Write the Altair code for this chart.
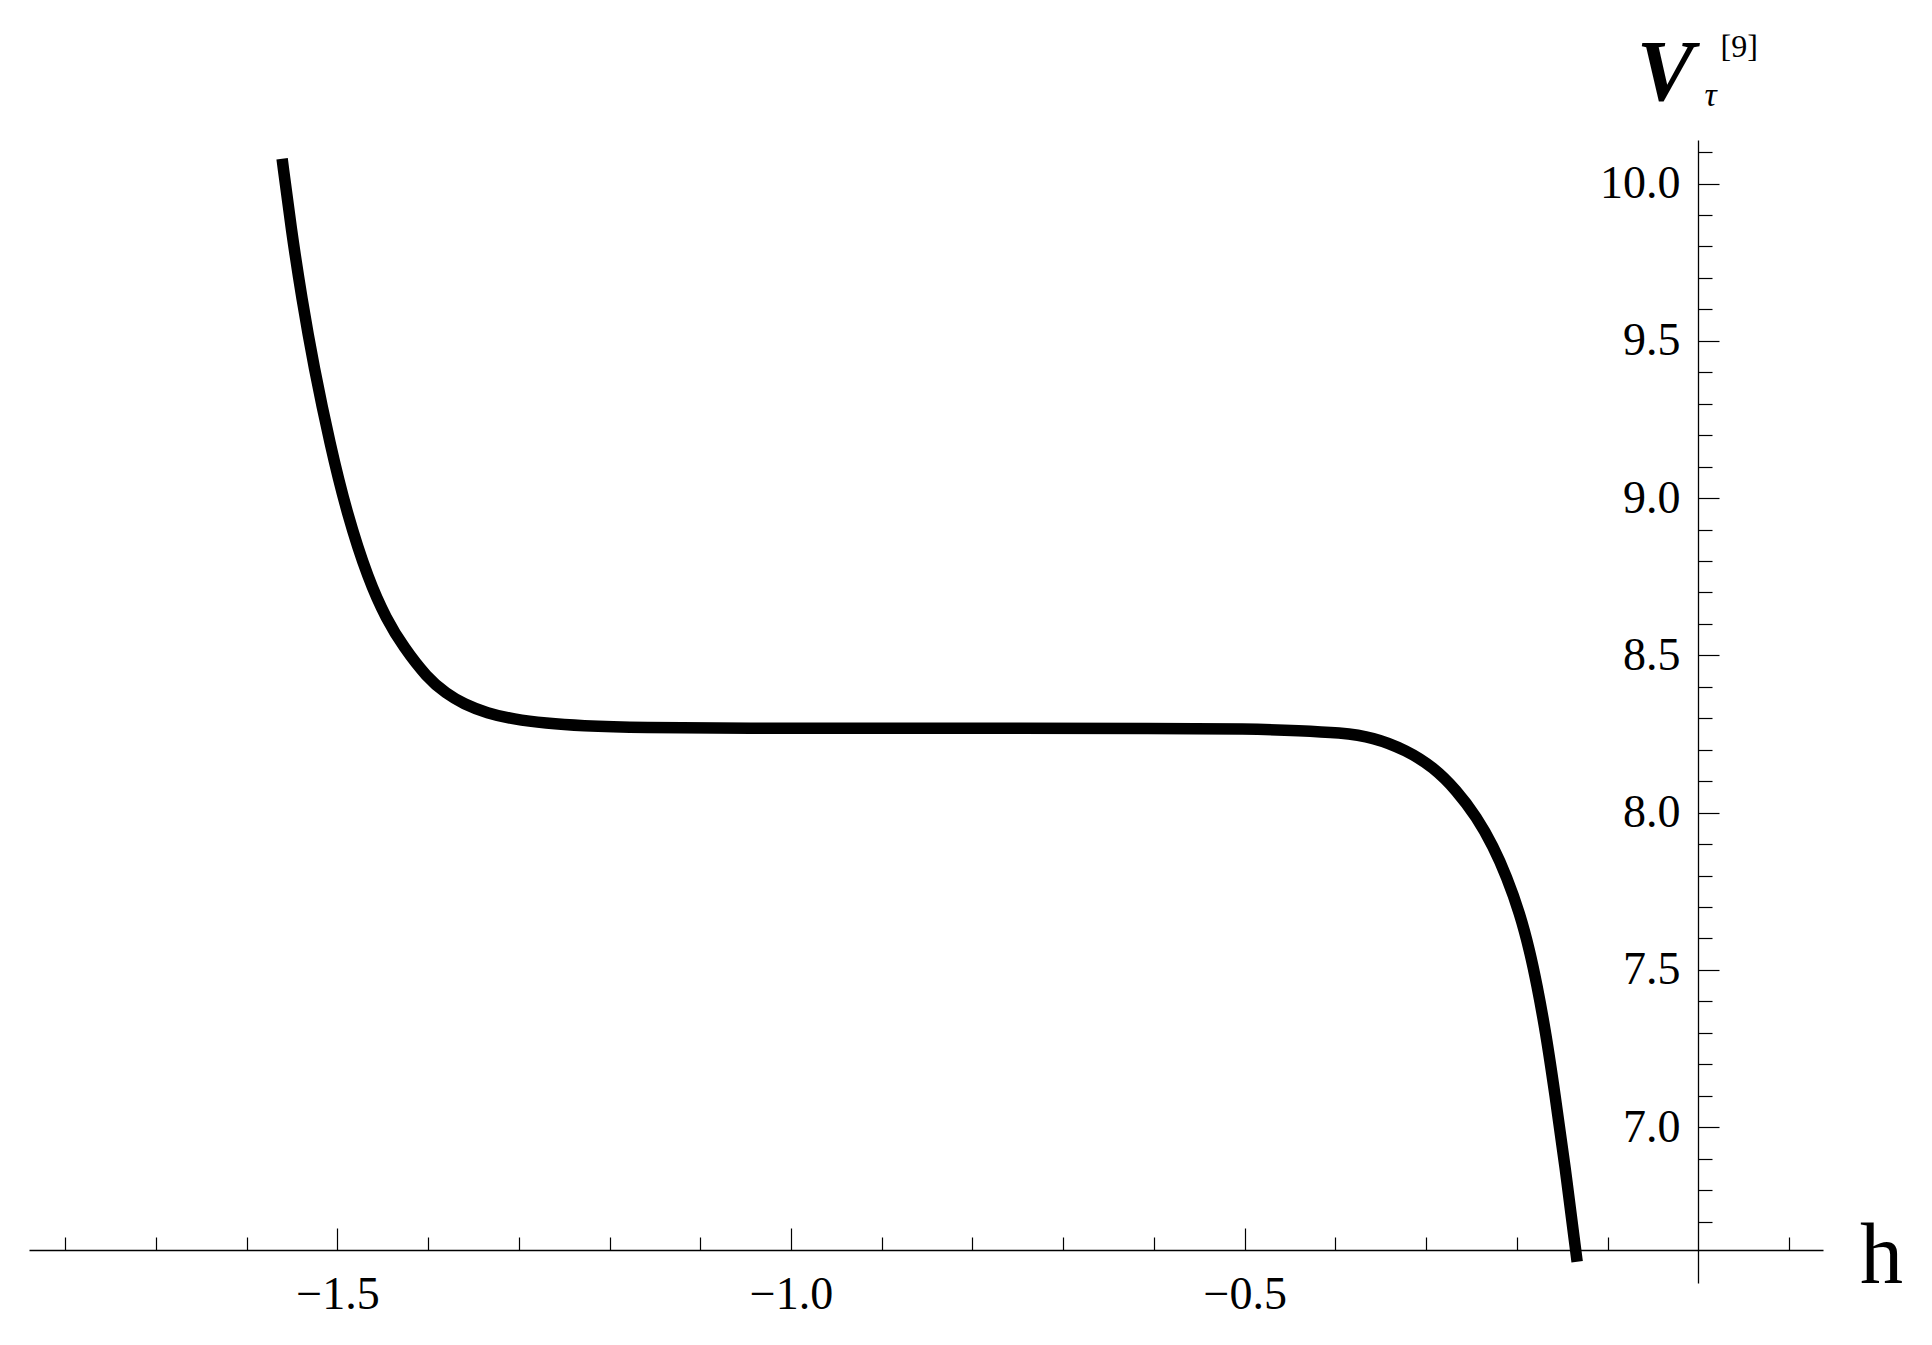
import altair as alt
import pandas as pd

# curve
h_vals = [-1.561, -1.551, -1.5392, -1.526, -1.5082, -1.4896, -1.4658, -1.446, -1.4273,
          -1.4015, -1.38, -1.3611, -1.335, -1.306, -1.27, -1.2325, -1.1664, -1.05,
          -0.9, -0.75, -0.6, -0.494, -0.439, -0.3948, -0.3583, -0.3215, -0.2922,
          -0.2664, -0.2443, -0.226, -0.2113, -0.1966, -0.1856, -0.1782, -0.168,
          -0.158, -0.147, -0.1352, -0.1335]
v_vals = [10.079, 9.855, 9.632, 9.417, 9.171, 8.951, 8.739, 8.615, 8.527,
          8.430, 8.378, 8.346, 8.316, 8.297, 8.284, 8.276, 8.270, 8.268,
          8.268, 8.268, 8.268, 8.266, 8.261, 8.254, 8.240, 8.198, 8.145,
          8.071, 7.986, 7.893, 7.797, 7.679, 7.558, 7.458, 7.300,
          7.105, 6.880, 6.610, 6.572]

x_major = [-1.5, -1.0, -0.5]
x_minor = [-1.8, -1.7, -1.6, -1.4, -1.3, -1.2, -1.1, -0.9, -0.8, -0.7, -0.6,
           -0.4, -0.3, -0.2, -0.1, 0.1]
y_major = [7.0, 7.5, 8.0, 8.5, 9.0, 9.5, 10.0]
y_minor = [6.7, 6.8, 6.9, 7.1, 7.2, 7.3, 7.4, 7.6, 7.7, 7.8, 7.9, 8.1, 8.2, 8.3, 8.4,
           8.6, 8.7, 8.8, 8.9, 9.1, 9.2, 9.3, 9.4, 9.6, 9.7, 9.8, 9.9, 10.1]
x_domain = [-1.84, 0.1375]
y_domain = [6.5045, 10.1385]

df = pd.DataFrame({"h": h_vals, "v": v_vals})

FONT = "Liberation Serif"
W, H = 1794, 1143
X_AXIS_OFF = -33      # x axis (v = 6.6) position from bottom
Y_AXIS_X = 1669       # y axis (h = 0) position from left

xs = alt.Scale(domain=x_domain, nice=False, zero=False)
ys = alt.Scale(domain=y_domain, nice=False, zero=False)

common = dict(grid=False, tickColor="black", tickWidth=1.2, domainColor="black",
              domainWidth=1.3, labelColor="black", titleColor="black")

# layer 1: the curve, with labelled axes (lines + labels)
curve = alt.Chart(df).mark_line(color="black", strokeWidth=11.5, interpolate="basis").encode(
    x=alt.X("h:Q", scale=xs, axis=alt.Axis(
        orient="bottom", offset=X_AXIS_OFF, values=x_major, format=".1f", ticks=False,
        domain=True, labelFont=FONT, labelFontSize=46, labelPadding=22,
        title="h", titleFont=FONT, titleFontSize=86, titleFontWeight="normal",
        titleX=1852, titleY=32, titleAlign="center", titleBaseline="alphabetic", **common)),
    y=alt.Y("v:Q", scale=ys, axis=alt.Axis(
        orient="left", offset=-Y_AXIS_X, values=y_major, format=".1f", ticks=False,
        domain=True, labelFont=FONT, labelFontSize=46, labelPadding=18,
        title="V", titleFont=FONT, titleFontSize=86, titleFontStyle="italic",
        titleFontWeight="bold", titleAngle=0, titleX=-33, titleY=-41,
        titleAlign="center", titleBaseline="alphabetic", **common)),
)

# layer 2: major ticks (pointing up / right), subscript tau
major = alt.Chart(df).mark_line(opacity=0).encode(
    x=alt.X("h:Q", scale=xs, axis=alt.Axis(
        orient="top", offset=-(H + X_AXIS_OFF), values=x_major, ticks=True, tickSize=22,
        labels=False, domain=False, title="", **common)),
    y=alt.Y("v:Q", scale=ys, axis=alt.Axis(
        orient="right", offset=-(W - Y_AXIS_X), values=y_major, ticks=True, tickSize=21,
        labels=False, domain=False, title="τ", titleFont=FONT, titleFontSize=34,
        titleFontStyle="italic", titleFontWeight="normal", titleAngle=0, titleX=12,
        titleY=-35, titleAlign="center", titleBaseline="alphabetic", **common)),
)

# layer 3: minor ticks, superscript [9]
minor = alt.Chart(df).mark_line(opacity=0).encode(
    x=alt.X("h:Q", scale=xs, axis=alt.Axis(
        orient="top", offset=-(H + X_AXIS_OFF), values=x_minor, ticks=True, tickSize=13,
        labels=False, domain=False, title="", **common)),
    y=alt.Y("v:Q", scale=ys, axis=alt.Axis(
        orient="right", offset=-(W - Y_AXIS_X), values=y_minor, ticks=True, tickSize=14,
        labels=False, domain=False, title="[9]", titleFont=FONT, titleFontSize=32,
        titleFontWeight="normal", titleAngle=0, titleX=22, titleY=-84,
        titleAlign="left", titleBaseline="alphabetic", **common)),
)

chart = alt.layer(curve, major, minor).resolve_axis(
    x="independent", y="independent"
).properties(
    width=W, height=H, autosize="none",
    padding={"left": 21, "top": 132, "right": 100, "bottom": 50},
    background="white",
).configure_view(strokeWidth=0)

chart.save("out.html", embed_options={"renderer": "svg", "actions": False})
